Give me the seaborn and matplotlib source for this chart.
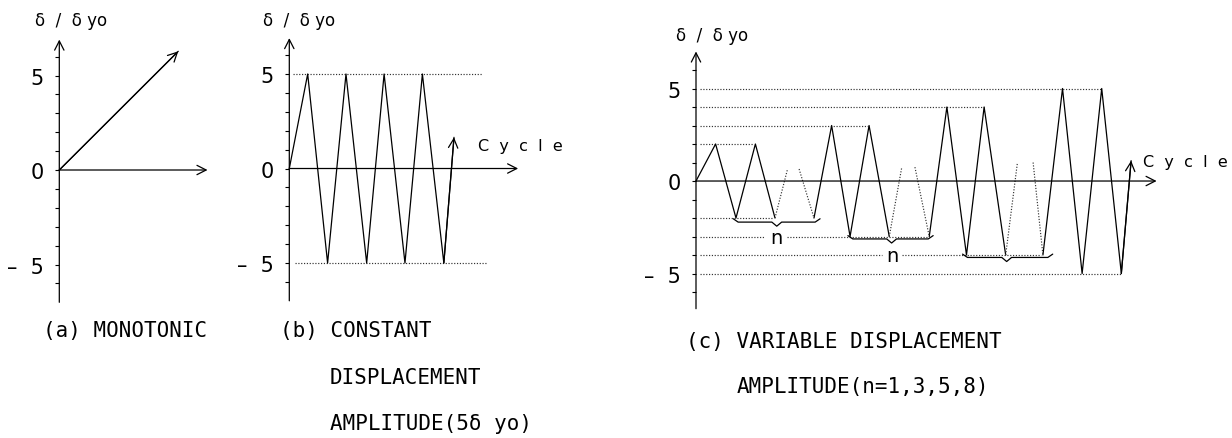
import matplotlib
matplotlib.use("Agg")
import matplotlib.pyplot as plt
import seaborn as sns
import pandas as pd

# ---------------- data ----------------
# (a) monotonic loading
a_x = [0.0, 6.26]
a_y = [0.0, 6.28]

# (b) constant amplitude (5 dy0)
b_x = [0.0, 0.96, 2.0, 2.96, 4.04, 4.95, 6.04, 6.95, 8.07, 8.6]
b_y = [0.0, 5, -5, 5, -5, 5, -5, 5, -5, 1.65]
b_level_y = [5, -5]
b_level_x0 = [0.2, 0.3]
b_level_x1 = [10.06, 10.3]

# (c) variable amplitude: solid groups and dotted (omitted) cycles
c_solid_x = [[0.0, 1.0, 2.04, 3.03, 4.03],
             [6.02, 6.92, 7.86, 8.83, 9.86],
             [11.9, 12.8, 13.8, 14.7, 15.8],
             [17.7, 18.7, 19.7, 20.7, 21.7, 22.2]]
c_solid_y = [[0, 2, -2, 2, -2],
             [-2, 3, -3, 3, -3],
             [-3, 4, -4, 4, -4],
             [-4, 5, -5, 5, -5, 1.1]]
c_dot_x = [[4.03, 4.66], [5.26, 6.02], [9.86, 10.5], [11.17, 11.9],
           [15.8, 16.4], [17.2, 17.7]]
c_dot_y = [[-2, 0.6], [0.65, -2], [-3, 0.75], [0.75, -3], [-4, 1.0], [1.0, -4]]
c_level_y = [2, 3, 4, 5, -2, -3, -3, -4, -4, -5]
c_level_x0 = [0.2, 0.2, 0.2, 0.2, 0.2, 0.2, 4.65, 0.2, 10.5, 0.2]
c_level_x1 = [2.9, 8.8, 14.7, 20.7, 3.93, 3.5, 11.9, 9.5, 17.6, 21.7]
brace_x0 = [1.9, 7.75, 13.6]
brace_x1 = [6.33, 12.1, 18.2]
brace_mid = [4.12, 9.98, 15.85]
brace_y = [-2.22, -3.13, -4.13]
n_x = [4.12, 10.0]
n_y = [-3.03, -4.05]

yticks = list(range(-6, 7))
ytick_text = {5: "5", 0: "0", -5: "–  5"}

# ---------------- style ----------------
sns.set_theme(style="white")
plt.rcParams["font.family"] = ["DejaVu Sans"]

W, H = 1232, 439
fig = plt.figure(figsize=(W / 100, H / 100), dpi=100)
fig.patch.set_facecolor("white")

DOT = (0, (1, 1.4))
ARROW = dict(arrowstyle="->,head_length=0.55,head_width=0.28", lw=0.9,
             color="black", shrinkA=0, shrinkB=0)


def place(l_px, r_px, xlim, top_px, bot_px, ylim):
    ax = fig.add_axes([l_px / W, 1 - bot_px / H, (r_px - l_px) / W,
                       (bot_px - top_px) / H])
    ax.set_xlim(*xlim)
    ax.set_ylim(*ylim)
    ax.set_facecolor("none")
    for s in ax.spines.values():
        s.set_visible(False)
    ax.grid(False)
    ax.set_xticks([])
    ax.set_yticks(yticks)
    ax.set_yticklabels([ytick_text.get(t, "") for t in yticks])
    ax.tick_params(axis="y", direction="out", length=3, width=0.8,
                   pad=8, labelsize=15, left=True, colors="black")
    ax.set_xlabel("")
    ax.set_ylabel("")
    # axes arrows
    ax.annotate("", xy=(0, ylim[1]), xytext=(0, ylim[0]), arrowprops=ARROW,
                annotation_clip=False)
    return ax


def line(ax, xs, ys, dotted=False, lw=0.9):
    df = pd.DataFrame({"x": xs, "y": ys})
    sns.lineplot(data=df, x="x", y="y", ax=ax, sort=False, estimator=None,
                 color="#333333" if dotted else "black",
                 lw=0.85 if dotted else lw,
                 linestyle=DOT if dotted else "-", clip_on=False)
    ax.set_xlabel("")
    ax.set_ylabel("")


def end_arrow(ax, xs, ys):
    ax.annotate("", xy=(xs[-1], ys[-1]), xytext=(xs[-2], ys[-2]),
                arrowprops=ARROW, annotation_clip=False)


# ---------------- (a) ----------------
axa = place(59.3, 59.3 + 8 * 19.0, (0, 8), 40.6, 303.3, (-7, 6.9))
axa.annotate("", xy=(7.8, 0), xytext=(0, 0), arrowprops=ARROW)
line(axa, a_x, a_y)
end_arrow(axa, a_x, a_y)

# ---------------- (b) ----------------
axb = place(289.3, 289.3 + 12 * 19.15, (0, 12), 39.1, 301.8, (-7, 6.9))
axb.annotate("", xy=(11.95, 0), xytext=(0, 0), arrowprops=ARROW)
for yv, x0, x1 in zip(b_level_y, b_level_x0, b_level_x1):
    line(axb, [x0, x1], [yv, yv], dotted=True)
line(axb, b_x, b_y)
end_arrow(axb, b_x, b_y)

# ---------------- (c) ----------------
axc = place(696, 696 + 24 * 19.6, (0, 24), 52.5, 309.7, (-6.9, 7.0))
axc.annotate("", xy=(23.5, 0), xytext=(0, 0), arrowprops=ARROW)
for yv, x0, x1 in zip(c_level_y, c_level_x0, c_level_x1):
    line(axc, [x0, x1], [yv, yv], dotted=True)
for xs, ys in zip(c_solid_x, c_solid_y):
    line(axc, xs, ys)
for xs, ys in zip(c_dot_x, c_dot_y):
    line(axc, xs, ys, dotted=True)
end_arrow(axc, c_solid_x[-1], c_solid_y[-1])
for x0, x1, xm, yb in zip(brace_x0, brace_x1, brace_mid, brace_y):
    bx = [x0, x0 + 0.25, xm - 0.25, xm, xm + 0.25, x1 - 0.25, x1]
    by = [yb + 0.18, yb, yb, yb - 0.22, yb, yb, yb + 0.18]
    line(axc, bx, by, lw=0.9)
for xv, yv in zip(n_x, n_y):
    axc.text(xv, yv, "n", ha="center", va="center", fontsize=14,
             color="black")

# ---------------- texts ----------------
def ftext(x, y, s, **kw):
    fig.text(x / W, 1 - y / H, s, va="center", ha="left", color="black", **kw)

mono = dict(family="DejaVu Sans Mono", fontsize=15)
ylab = "δ  /  δ yo"
ftext(35, 21, ylab, fontsize=12)
ftext(263, 21, ylab, fontsize=12)
ftext(676, 36, ylab, fontsize=12)
ftext(478, 147, "C  y  c  l  e", fontsize=11.5)
ftext(1143, 163, "C  y  c  l  e", fontsize=11.5)

ftext(43, 331, "(a) MONOTONIC", **mono)
ftext(280, 331, "(b) CONSTANT", **mono)
ftext(330, 378, "DISPLACEMENT", **mono)
ftext(330, 424, "AMPLITUDE(5δ yo)", **mono)
ftext(686, 342, "(c) VARIABLE DISPLACEMENT", **mono)
ftext(737, 387, "AMPLITUDE(n=1,3,5,8)", **mono)

fig.savefig("out.png", dpi=100, facecolor="white")
